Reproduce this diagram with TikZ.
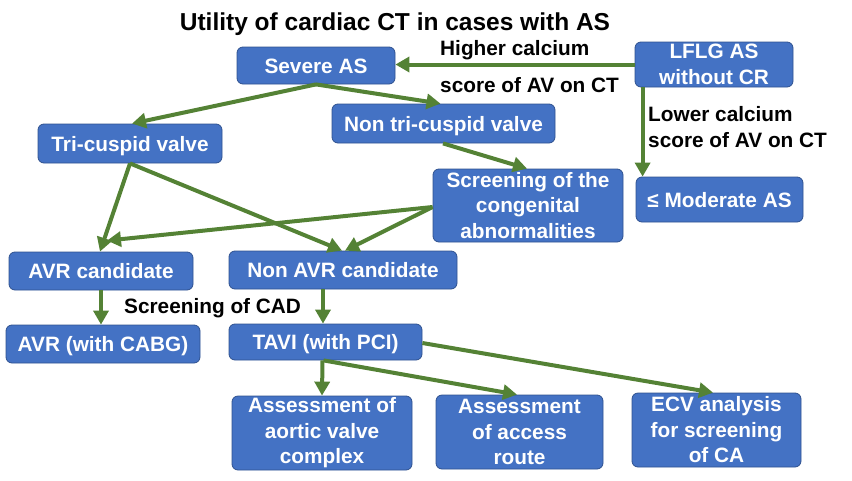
\documentclass[tikz,border=0pt]{standalone}
\usepackage{fontspec}
\setmainfont{Liberation Sans}
\usetikzlibrary{arrows.meta,calc}
\definecolor{boxblue}{HTML}{4472C4}
\definecolor{boxedge}{HTML}{2F528F}
\definecolor{arrgreen}{HTML}{548235}
\tikzset{
  box/.style={draw=boxedge, fill=boxblue, line width=0.8pt, rounded corners=6pt,
    text=white, font=\bfseries\fontsize{20.8}{25.5}\selectfont, align=center, inner sep=0pt},
  one/.style={text height=15pt, text depth=0pt},
  lbl/.style={inner sep=0pt, font=\bfseries\fontsize{20.8}{25.5}\selectfont, text=black},
  arr/.style={draw=arrgreen, line width=4pt, -{Triangle[length=14pt,width=15pt]}},
}
\begin{document}
\begin{tikzpicture}[x=1pt,y=-1pt]
\useasboundingbox (0,0) rectangle (852,480);
% title
\node[inner sep=0pt, anchor=base, font=\bfseries\fontsize{24.5}{29}\selectfont] (title) at (395,30) {Utility of cardiac CT in cases with AS};
% boxes
\node[box,one,minimum width=158pt,minimum height=37pt] (sev) at (316,65.5) {Severe AS};
\node[box,one,minimum width=184pt,minimum height=39pt] (tri) at (130,143.5) {Tri-cuspid valve};
\node[box,one,minimum width=223pt,minimum height=39pt] (ntri) at (443.5,123.5) {Non tri-cuspid valve};
\node[box,minimum width=158pt,minimum height=45pt] (lflg) at (714,64.5) {LFLG AS\\without CR};
\node[box,minimum width=190pt,minimum height=73pt] (scr) at (528,205.5) {Screening of the\\congenital\\abnormalities};
\node[box,one,minimum width=167pt,minimum height=45pt] (mod) at (719.5,199.5) {≤ Moderate AS};
\node[box,one,minimum width=184pt,minimum height=38pt] (avrc) at (101,271) {AVR candidate};
\node[box,one,minimum width=228pt,minimum height=38pt] (navr) at (343,270) {Non AVR candidate};
\node[box,one,minimum width=194pt,minimum height=38pt] (cabg) at (103,344) {AVR (with CABG)};
\node[box,one,minimum width=193pt,minimum height=36pt] (tavi) at (325.5,342) {TAVI (with PCI)};
\node[box,minimum width=180pt,minimum height=74pt] (aor) at (322,433) {Assessment of\\aortic valve\\complex};
\node[box,minimum width=167pt,minimum height=74pt] (acc) at (519.5,432) {Assessment\\of access\\route};
\node[box,minimum width=169pt,minimum height=74pt] (ecv) at (716.5,430) {ECV analysis\\for screening\\of CA};
% labels
\node[lbl, anchor=base west] (hc1) at (440,55) {Higher calcium};
\node[lbl, anchor=base west] (hc2) at (440,92) {score of AV on CT};
\node[lbl, anchor=west, align=left] (lc) at (648,127) {Lower calcium\\score of AV on CT};
\node[lbl, anchor=base west] (cad) at (124,313) {Screening of CAD};
% connectors
\draw[arr] (lflg.west) -- (sev.east |- lflg.west);
\draw[arr] ($(lflg.south west)+(8,0)$) -- ($(mod.north west)+(7,0)$);
\draw[arr] (sev.south) -- ($(tri.north)+(2,0)$);
\draw[arr] (sev.south) -- ($(ntri.north)+(-3,0)$);
\draw[arr] ($(ntri.south)+(-0.5,0)$) -- ($(scr.north)+(-1,0)$);
\draw[arr] (tri.south) -- ($(avrc.north)+(-1,0)$);
\draw[arr] (tri.south) -- ($(navr.north)+(-1,0)$);
\draw[arr] ($(scr.west)+(0,1.5)$) -- ($(avrc.north)+(6,-11)$);
\draw[arr] ($(scr.west)+(0,1.5)$) -- ($(navr.north)+(2,0)$);
\draw[arr] (avrc.south) -- (avrc.south |- cabg.north);
\draw[arr] ($(navr.south)+(-20,0)$) coordinate (nv) -- (nv |- tavi.north);
\draw[arr] ($(tavi.south)+(-3,0)$) -- (aor.north);
\draw[arr] ($(tavi.south)+(-2,0)$) -- ($(acc.north)+(-2.5,0)$);
\draw[arr] ($(tavi.east)+(0,1)$) -- ($(ecv.north)+(-3.5,0)$);
\end{tikzpicture}
\end{document}
